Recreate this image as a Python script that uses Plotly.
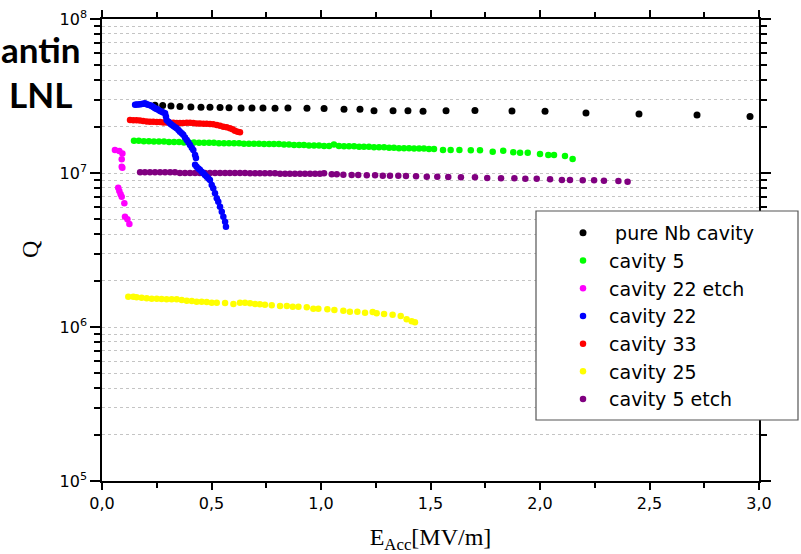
import plotly.graph_objects as go

# ---------------- data ----------------
nb_x = [0.242, 0.277, 0.315, 0.356, 0.406, 0.452, 0.493, 0.539, 0.580, 0.635, 0.685, 0.735, 0.790, 0.849,
        0.936, 1.014, 1.105, 1.178, 1.242, 1.329, 1.397, 1.466, 1.571, 1.703, 1.872, 2.023, 2.210, 2.452,
        2.717, 2.959]
nb_q = [2.75e7, 2.74e7, 2.72e7, 2.70e7, 2.68e7, 2.67e7, 2.67e7, 2.66e7, 2.65e7, 2.64e7, 2.64e7, 2.64e7,
        2.63e7, 2.64e7, 2.63e7, 2.62e7, 2.59e7, 2.59e7, 2.54e7, 2.54e7, 2.54e7, 2.52e7, 2.54e7, 2.55e7,
        2.53e7, 2.52e7, 2.45e7, 2.42e7, 2.38e7, 2.33e7]

c5_x = [0.146, 0.168, 0.191, 0.214, 0.237, 0.260, 0.283, 0.306, 0.329, 0.352, 0.374, 0.397, 0.420, 0.443,
        0.466, 0.489, 0.511, 0.534, 0.557, 0.580, 0.603, 0.626, 0.648, 0.671, 0.694, 0.717, 0.740, 0.763,
        0.785, 0.808, 0.831, 0.854, 0.877, 0.900, 0.922, 0.945, 0.968, 0.991, 1.014, 1.037, 1.059, 1.082,
        1.105, 1.128, 1.151, 1.174, 1.196, 1.219, 1.242, 1.265, 1.288, 1.311, 1.333, 1.356, 1.379, 1.402,
        1.425, 1.448, 1.470, 1.493, 1.516,
        1.557, 1.592, 1.632, 1.684, 1.726, 1.784, 1.832, 1.878, 1.909, 1.944, 2.000, 2.038, 2.064, 2.114,
        2.149]
c5_q = [1.62e7, 1.62e7, 1.61e7, 1.61e7, 1.60e7, 1.60e7, 1.60e7, 1.59e7, 1.59e7, 1.59e7, 1.58e7, 1.58e7,
        1.58e7, 1.57e7, 1.57e7, 1.57e7, 1.57e7, 1.56e7, 1.56e7, 1.56e7, 1.56e7, 1.56e7, 1.55e7, 1.55e7,
        1.55e7, 1.55e7, 1.54e7, 1.54e7, 1.54e7, 1.54e7, 1.53e7, 1.53e7, 1.52e7, 1.52e7, 1.52e7, 1.51e7,
        1.51e7, 1.51e7, 1.50e7, 1.50e7, 1.53e7, 1.50e7, 1.49e7, 1.49e7, 1.49e7, 1.48e7, 1.48e7, 1.48e7,
        1.47e7, 1.47e7, 1.47e7, 1.46e7, 1.46e7, 1.45e7, 1.45e7, 1.45e7, 1.44e7, 1.44e7, 1.44e7, 1.43e7,
        1.43e7,
        1.411e7, 1.411e7, 1.411e7, 1.405e7, 1.405e7, 1.376e7, 1.397e7, 1.364e7, 1.356e7, 1.356e7, 1.328e7,
        1.309e7, 1.309e7, 1.289e7, 1.233e7]

c22e_x = [0.059, 0.079, 0.093, 0.090, 0.090, 0.093, 0.074, 0.079, 0.085, 0.090, 0.102, 0.105, 0.116, 0.125]
c22e_q = [1.41e7, 1.39e7, 1.34e7, 1.23e7, 1.10e7, 1.08e7, 8.03e6, 7.64e6, 7.27e6, 7.02e6, 6.36e6, 5.20e6,
          5.00e6, 4.66e6]

c22_x = [0.151, 0.158, 0.166, 0.174, 0.181, 0.189, 0.196, 0.204, 0.211, 0.219, 0.227, 0.234, 0.242, 0.250,
         0.257, 0.265, 0.273, 0.280, 0.288, 0.292, 0.295, 0.303, 0.311, 0.318, 0.326, 0.334, 0.341, 0.349,
         0.356, 0.364, 0.371, 0.379, 0.387, 0.395, 0.402, 0.410, 0.417, 0.425, 0.429, 0.425, 0.432, 0.440,
         0.447, 0.455, 0.463, 0.470, 0.478, 0.486, 0.493, 0.501, 0.508, 0.516, 0.524, 0.531, 0.539, 0.547,
         0.554, 0.562, 0.566]
c22_q = [2.77e7, 2.79e7, 2.79e7, 2.80e7, 2.81e7, 2.82e7, 2.84e7, 2.80e7, 2.77e7, 2.75e7, 2.72e7, 2.68e7,
         2.63e7, 2.60e7, 2.57e7, 2.53e7, 2.50e7, 2.47e7, 2.44e7, 2.33e7, 2.21e7, 2.15e7, 2.10e7, 2.06e7,
         2.02e7, 1.98e7, 1.95e7, 1.90e7, 1.85e7, 1.81e7, 1.77e7, 1.70e7, 1.64e7, 1.58e7, 1.52e7, 1.46e7,
         1.41e7, 1.31e7, 1.25e7, 1.13e7, 1.10e7, 1.07e7, 1.05e7, 1.02e7, 9.96e6, 9.70e6, 9.46e6, 9.20e6,
         9.01e6, 8.36e6, 7.96e6, 7.38e6, 6.85e6, 6.51e6, 6.04e6, 5.61e6, 5.20e6, 4.83e6, 4.48e6]

c33_x = [0.128, 0.143, 0.158, 0.173, 0.188, 0.204, 0.219, 0.234, 0.250, 0.265, 0.280, 0.295, 0.311, 0.326,
         0.341, 0.356, 0.371, 0.387, 0.402, 0.417, 0.432, 0.447, 0.463, 0.478, 0.493, 0.508, 0.524, 0.539,
         0.554, 0.569, 0.584, 0.596, 0.607, 0.619, 0.630]
c33_q = [2.21e7, 2.20e7, 2.20e7, 2.19e7, 2.18e7, 2.16e7, 2.15e7, 2.15e7, 2.14e7, 2.14e7, 2.13e7, 2.13e7,
         2.12e7, 2.12e7, 2.11e7, 2.11e7, 2.11e7, 2.12e7, 2.12e7, 2.11e7, 2.10e7, 2.10e7, 2.09e7, 2.09e7,
         2.08e7, 2.07e7, 2.05e7, 2.03e7, 2.00e7, 1.98e7, 1.95e7, 1.92e7, 1.88e7, 1.85e7, 1.84e7]

c25_x = [0.120, 0.143, 0.158, 0.181, 0.204, 0.227, 0.250, 0.272, 0.295, 0.318, 0.341, 0.364, 0.387, 0.410,
         0.432, 0.455, 0.478, 0.501, 0.524, 0.562, 0.600, 0.630, 0.653, 0.676, 0.699, 0.721, 0.744, 0.775,
         0.813, 0.844, 0.871, 0.897, 0.935, 0.965, 0.988, 1.029, 1.061, 1.102, 1.132, 1.166, 1.201, 1.236,
         1.254, 1.288, 1.327, 1.364, 1.391, 1.414, 1.429]
c25_q = [1.573e6, 1.573e6, 1.559e6, 1.549e6, 1.536e6, 1.527e6, 1.527e6, 1.520e6, 1.513e6, 1.513e6, 1.513e6,
         1.497e6, 1.482e6, 1.475e6, 1.460e6, 1.460e6, 1.453e6, 1.438e6, 1.438e6, 1.432e6, 1.411e6, 1.438e6,
         1.438e6, 1.425e6, 1.411e6, 1.404e6, 1.396e6, 1.383e6, 1.369e6, 1.369e6, 1.355e6, 1.355e6, 1.343e6,
         1.315e6, 1.315e6, 1.303e6, 1.290e6, 1.276e6, 1.257e6, 1.257e6, 1.239e6, 1.252e6, 1.228e6, 1.215e6,
         1.202e6, 1.179e6, 1.122e6, 1.089e6, 1.073e6]

c5e_x = [0.174, 0.196, 0.219, 0.242, 0.265, 0.288, 0.311, 0.333, 0.356, 0.379, 0.402, 0.425, 0.447, 0.470,
         0.493, 0.516, 0.539, 0.562, 0.584, 0.607, 0.630, 0.653, 0.676, 0.699, 0.721, 0.744, 0.767, 0.790,
         0.813, 0.836, 0.858, 0.881, 0.904, 0.927, 0.950, 0.973, 0.995,
         1.014, 1.049, 1.072, 1.102, 1.140, 1.170, 1.209, 1.247, 1.282, 1.315, 1.353, 1.388, 1.434, 1.483,
         1.531, 1.581, 1.639, 1.703, 1.759, 1.822, 1.883, 1.933, 1.985, 2.046, 2.100, 2.137, 2.195, 2.247,
         2.292, 2.358, 2.400]
c5e_q = [1.01e7, 1.01e7, 1.01e7, 1.01e7, 1.01e7, 1.01e7, 1.01e7, 1.01e7, 1.00e7, 1.00e7, 1.00e7, 1.00e7,
         1.00e7, 1.00e7, 1.00e7, 1.00e7, 1.00e7, 1.00e7, 1.00e7, 1.00e7, 1.00e7, 1.00e7, 9.95e6, 9.95e6,
         9.95e6, 9.95e6, 9.95e6, 9.95e6, 9.90e6, 9.90e6, 9.90e6, 9.90e6, 9.90e6, 9.90e6, 9.90e6, 9.90e6,
         9.90e6,
         9.96e6, 9.81e6, 9.81e6, 9.75e6, 9.70e6, 9.70e6, 9.66e6, 9.66e6, 9.60e6, 9.60e6, 9.60e6, 9.56e6,
         9.52e6, 9.46e6, 9.46e6, 9.42e6, 9.38e6, 9.38e6, 9.28e6, 9.24e6, 9.24e6, 9.18e6, 9.18e6, 9.10e6,
         9.01e6, 9.01e6, 8.97e6, 8.97e6, 8.91e6, 8.87e6, 8.78e6]

x_ticks = [0.0, 0.5, 1.0, 1.5, 2.0, 2.5, 3.0]
y_major = [1e5, 1e6, 1e7, 1e8]
y_major_text = ["10<sup>5</sup>", "10<sup>6</sup>", "10<sup>7</sup>", "10<sup>8</sup>"]
y_minor = [m * 10 ** e for e in (5, 6, 7) for m in range(2, 10)]

# (legend label, x, y, color, marker size, legend rank); drawing order puts blue on top
series = [
    ("\u00a0\u00a0pure Nb cavity", nb_x, nb_q, "#000000", 7, 1),
    ("\u00a0cavity 5", c5_x, c5_q, "#00ff00", 6.5, 2),
    ("\u00a0cavity 22 etch", c22e_x, c22e_q, "#ff00ff", 6.5, 3),
    ("\u00a0cavity 33", c33_x, c33_q, "#ff0000", 6.5, 5),
    ("\u00a0cavity 25", c25_x, c25_q, "#ffff00", 6.5, 6),
    ("\u00a0cavity 5 etch", c5e_x, c5e_q, "#800080", 6.5, 7),
    ("\u00a0cavity 22", c22_x, c22_q, "#0000ff", 6.5, 4),
]

fig = go.Figure()
for name, xs, ys, col, sz, rank in series:
    fig.add_trace(go.Scatter(
        x=xs, y=ys, mode="markers", name=name,
        marker=dict(color=col, size=sz, line=dict(width=0)),
        legendrank=rank,
    ))

W, H = 801, 554
L, R, T, B = 102, 42, 19, 73
pw, ph = W - L - R, H - T - B


def px(xp):
    return (xp - L) / pw


def py(yp):
    return (H - B - yp) / ph


tick_font = dict(family="DejaVu Sans", size=16, color="black")

fig.update_layout(
    width=W, height=H,
    margin=dict(l=L, r=R, t=T, b=B, pad=0, autoexpand=False),
    paper_bgcolor="white", plot_bgcolor="white",
    separators=", ",
    showlegend=True,
    legend=dict(
        x=px(563), y=py(214), xanchor="left", yanchor="top",
        bgcolor="rgba(0,0,0,0)", borderwidth=0,
        font=dict(family="DejaVu Sans", size=19, color="black"),
        traceorder="normal",
    ),
    xaxis=dict(
        range=[0, 3], tickvals=x_ticks, tickformat=".1f", automargin=False,
        showline=True, linecolor="black", linewidth=1.5, mirror="ticks",
        ticks="outside", ticklen=7, tickwidth=1.5, tickcolor="black",
        tickfont=tick_font, showgrid=False, zeroline=False,
        minor=dict(dtick=0.25, ticks="outside", ticklen=5, tickwidth=1.5, tickcolor="black", showgrid=False),
        title=dict(text="E<sub>Acc</sub>[MV/m]", font=dict(family="Liberation Serif", size=24, color="black"),
                   standoff=22),
    ),
    yaxis=dict(
        type="log", range=[5, 8], tickvals=y_major, ticktext=y_major_text, automargin=False,
        showline=True, linecolor="black", linewidth=1.5, mirror="ticks",
        ticks="outside", ticklen=10, tickwidth=1.5, tickcolor="black",
        tickfont=tick_font, zeroline=False,
        showgrid=True, gridcolor="#c4c4c4", griddash="dot", gridwidth=1,
        minor=dict(tickvals=y_minor, ticks="outside", ticklen=6, tickwidth=1.5, tickcolor="black",
                   showgrid=True, gridcolor="#c4c4c4", griddash="dot", gridwidth=1),
    ),
    shapes=[dict(
        type="rect", xref="paper", yref="paper",
        x0=px(536), x1=px(798), y0=py(420), y1=py(211),
        fillcolor="white", line=dict(color="#555555", width=1.2), layer="above",
    )],
    annotations=[
        dict(text="Q", xref="paper", yref="paper", x=px(30), y=py(250), showarrow=False,
             textangle=-90, font=dict(family="Liberation Serif", size=24, color="black"),
             xanchor="center", yanchor="middle"),
        dict(text="<b>antin</b>", xref="paper", yref="paper", x=px(83), y=py(49), showarrow=False,
             font=dict(family="Lato", size=35, color="black"), xanchor="right", yanchor="middle"),
        dict(text="<b>LNL</b>", xref="paper", yref="paper", x=px(40), y=py(94), showarrow=False,
             font=dict(family="Lato", size=35, color="black"), xanchor="center", yanchor="middle"),
    ],
)

fig.write_html("out.html")
